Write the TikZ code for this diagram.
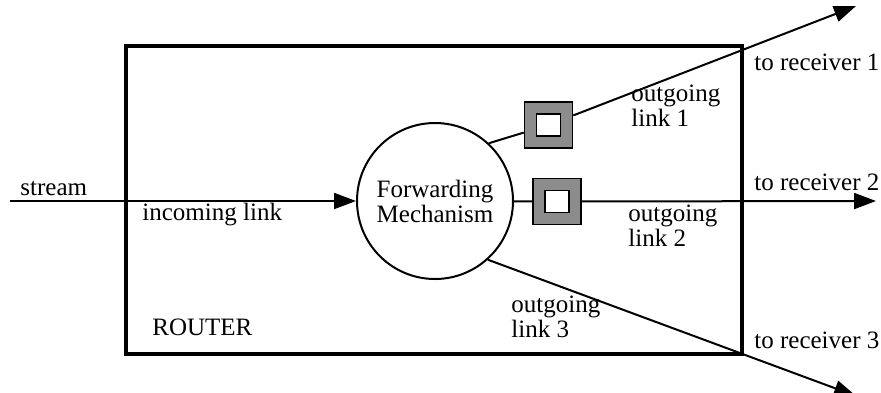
\documentclass[tikz,border=0pt]{standalone}
\usepackage{fontspec}
\setmainfont{Liberation Serif}
\usetikzlibrary{arrows.meta}
\begin{document}
\begin{tikzpicture}[x=0.5pt,y=-0.5pt,
    font=\fontsize{12.5}{12.5}\selectfont,
    lbl/.style={anchor=base west, inner sep=0pt, align=left},
    link/.style={line width=1pt},
    tip/.style={-{Triangle[length=11pt,width=8pt]}},
    port/.style={draw, line width=0.8pt, fill=black!45, minimum width=24pt, minimum height=23pt, inner sep=0pt},
    portin/.style={draw, line width=0.8pt, fill=white, minimum width=12pt, minimum height=11pt, inner sep=0pt}]
    \useasboundingbox (0,0) rectangle (881,392);

    % Draw the router box
    \draw[line width=2pt] (126,46) rectangle (742,354);

    % Draw the forwarding mechanism
    \node[draw, circle, line width=1pt, minimum size=78pt, inner sep=0pt, align=center] (fwd) at (435,201) {Forwarding\\Mechanism};

    % Draw the output ports
    \node[port] (q1) at (548.5,125) {};
    \node[portin] (q1in) at (q1) {};
    \node[port] (q2) at (557,201.5) {};
    \node[portin] (q2in) at (q2) {};

    % Free ends of the links
    \coordinate (src) at (10,201);
    \coordinate (out1) at (856,6);
    \coordinate (out2) at (876,201);
    \coordinate (out3) at (856,396);

    % Draw incoming and outgoing links
    \draw[link,tip] (src) -- (fwd);
    \draw[link] (fwd.47) -- (q1);
    \draw[link,tip] (q1) -- (out1);
    \draw[link] (fwd) -- (q2);
    \draw[link,tip] (q2) -- (out2);
    \draw[link,tip] (fwd.-48) -- (out3);

    % Draw the labels
    \node[lbl] (stream) at (20,195) {stream};
    \node[lbl] (inlink) at (142,220) {incoming link};
    \node[lbl] (router) at (152,335) {ROUTER};
    \node[lbl] (olink1) at (631,126) {outgoing\\link 1};
    \node[lbl] (olink2) at (628,246) {outgoing\\link 2};
    \node[lbl] (olink3) at (511,337) {outgoing\\link 3};
    \node[lbl] (rcv1) at (754,70) {to receiver 1};
    \node[lbl] (rcv2) at (754,190) {to receiver 2};
    \node[lbl] (rcv3) at (754,348) {to receiver 3};
\end{tikzpicture}
\end{document}
